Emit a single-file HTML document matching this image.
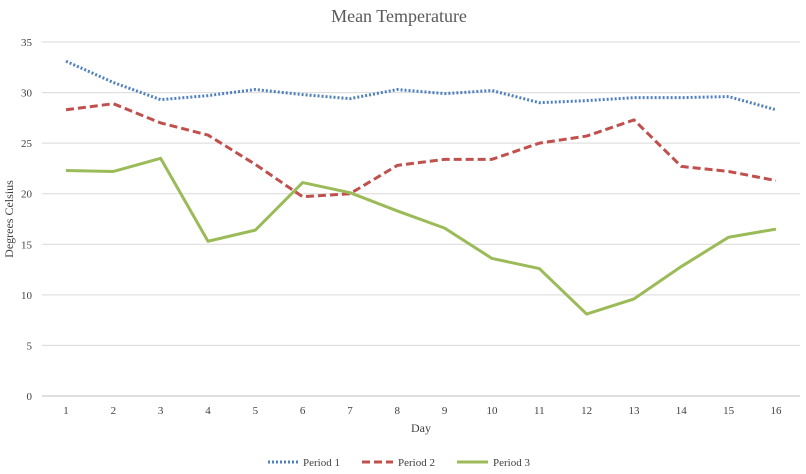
<!DOCTYPE html>
<html><head><meta charset="utf-8"><style>
body{margin:0;background:#fff;}
svg{display:block;font-family:"Liberation Serif",serif;}
</style></head><body>
<svg id="c" width="806" height="474" viewBox="0 0 806 474" xmlns="http://www.w3.org/2000/svg">
<rect width="806" height="474" fill="#fff"/>
<text x="399" y="22" font-size="18" text-anchor="middle" fill="#595959">Mean Temperature</text>
<g id="grid"></g>
<g id="lines"></g>
<text transform="translate(13,219) rotate(-90)" font-size="12" text-anchor="middle" fill="#404040">Degrees Celsius</text>
<text x="421" y="432" font-size="12" text-anchor="middle" fill="#404040">Day</text>
<g font-size="11" fill="#404040">
<line x1="268" y1="462" x2="298" y2="462" stroke="#4f81bd" stroke-width="3" stroke-dasharray="2,2"/>
<text x="303" y="466">Period 1</text>
<line x1="362" y1="462" x2="393" y2="462" stroke="#c0504d" stroke-width="3" stroke-dasharray="8,4"/>
<text x="398" y="466">Period 2</text>
<line x1="457" y1="462" x2="488" y2="462" stroke="#9bbb59" stroke-width="3"/>
<text x="493" y="466">Period 3</text>
</g>
</svg>
<script>
var ns="http://www.w3.org/2000/svg",g=document.getElementById('grid'),L=document.getElementById('lines');
function Y(v){return 396-v*10.114}function X(i){return 66+i*47.33}
function el(p,t,a){var e=document.createElementNS(ns,t);for(var k in a)e.setAttribute(k,a[k]);p.appendChild(e);return e}
for(var v=0;v<=35;v+=5){var y=Y(v);el(g,'line',{x1:42,x2:800,y1:y,y2:y,stroke:v?'#d9d9d9':'#bfbfbf','stroke-width':1});
var t=el(g,'text',{x:32,y:y+4,'font-size':11,'text-anchor':'end',fill:'#404040'});t.textContent=v;}
for(var i=0;i<16;i++){var t=el(g,'text',{x:X(i),y:414,'font-size':11,'text-anchor':'middle',fill:'#404040'});t.textContent=i+1;}
var d=[[33.1,31.0,29.3,29.7,30.3,29.8,29.4,30.3,29.9,30.2,29.0,29.2,29.5,29.5,29.6,28.3],
[28.3,28.9,27.0,25.8,22.9,19.7,20.0,22.8,23.4,23.4,25.0,25.7,27.3,22.7,22.2,21.3],
[22.3,22.2,23.5,15.3,16.4,21.1,20.1,18.3,16.6,13.6,12.6,8.1,9.6,12.8,15.7,16.5]];
var st=[['#4f81bd','2,2'],['#c0504d','8,4'],['#9bbb59','none']];
for(var s=0;s<3;s++){el(L,'polyline',{points:d[s].map(function(v,i){return X(i)+','+Y(v)}).join(' '),fill:'none',stroke:st[s][0],'stroke-width':3,'stroke-dasharray':st[s][1],'stroke-linejoin':'round'});}
</script>
</body></html>
